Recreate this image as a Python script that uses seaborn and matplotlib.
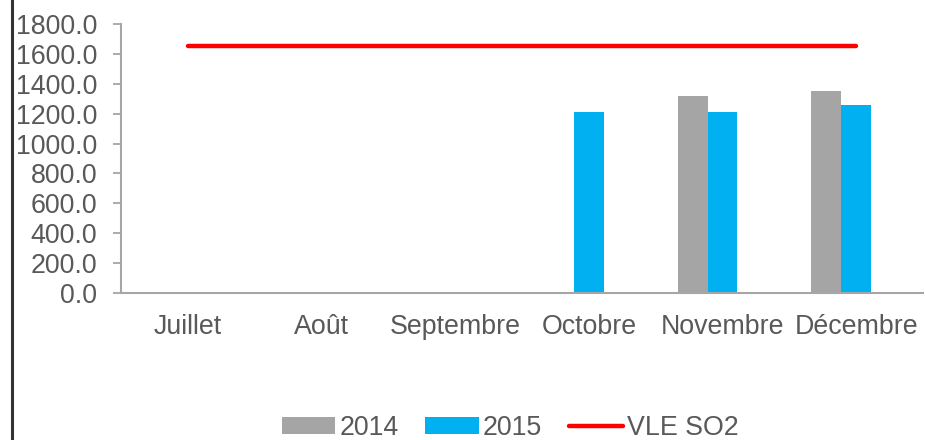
import matplotlib
matplotlib.use("Agg")
import matplotlib.pyplot as plt
import matplotlib.ticker as mticker
from matplotlib.lines import Line2D
import numpy as np
import pandas as pd
import seaborn as sns

# Data
months = ["Juillet", "Août", "Septembre", "Octobre", "Novembre", "Décembre"]
values_2014 = [0, 0, 0, 0, 1320, 1355]
values_2015 = [0, 0, 0, 1210, 1210, 1260]
values_other = [6, 0, 0, 0, 0, 0]  # faint third series, not in the legend
vle_so2 = [1650, 1650, 1650, 1650, 1650, 1650]

sns.set_style("white")
plt.rcParams["font.family"] = ["Liberation Sans", "DejaVu Sans"]
text_color = "#595959"
axis_color = "#A6A6A6"
fs = 19.3

df = pd.DataFrame({
    "Mois": months * 3,
    "Série": ["2014"] * 6 + ["2015"] * 6 + ["autre"] * 6,
    "valeur": values_2014 + values_2015 + values_other,
})

fig = plt.figure(figsize=(9.25, 4.4), dpi=100)
ax = fig.add_axes([121 / 925, 1 - 293 / 440, 802 / 925, 269 / 440])

sns.barplot(data=df, x="Mois", y="valeur", hue="Série", order=months,
            palette={"2014": "#A5A5A5", "2015": "#00B0F0", "autre": "#D5E8C4"},
            width=0.673, errorbar=None, ax=ax, saturation=1, linewidth=0)
ax.plot(np.arange(len(months)), vle_so2, color="#FF0000", lw=3.2,
        solid_capstyle="round", label="VLE SO2")

ax.set_ylim(0, 1800)
ax.set_xlim(-0.5, len(months) - 0.5)
ax.yaxis.set_major_locator(mticker.MultipleLocator(200))
ax.yaxis.set_major_formatter(mticker.FormatStrFormatter("%.1f"))
ax.set_xlabel("")
ax.set_ylabel("")

ax.set_xticks(np.arange(len(months)))
ax.set_xticklabels(months)
ax.set_xticks(np.arange(len(months) + 1) - 0.5, minor=True)
ax.tick_params(axis="x", which="major", length=0, pad=15, labelsize=fs,
               labelcolor=text_color)
ax.tick_params(axis="x", which="minor", length=6, width=1.3, color=axis_color)
ax.tick_params(axis="y", length=6, width=1.3, color=axis_color, pad=11,
               labelsize=fs, labelcolor=text_color, left=True)

for side in ["top", "right"]:
    ax.spines[side].set_visible(False)
for side in ["left", "bottom"]:
    ax.spines[side].set_color(axis_color)
    ax.spines[side].set_linewidth(1.5)

handles, labels = ax.get_legend_handles_labels()
keep = [i for i, lab in enumerate(labels) if lab != "autre"]
ax.get_legend().remove()
fig.legend([handles[i] for i in keep], [labels[i] for i in keep],
           loc="center", bbox_to_anchor=(510 / 925, 1 - 428 / 440),
           ncol=3, frameon=False, fontsize=fs, labelcolor=text_color,
           handlelength=2.0, handleheight=0.55, handletextpad=0.15,
           columnspacing=1.0, borderaxespad=0, borderpad=0)

# dark frame edge on the left of the picture
fig.add_artist(Line2D([12 / 925, 12 / 925], [0, 1], color="#333333", lw=2.2,
                      transform=fig.transFigure))

fig.savefig("out.png", dpi=100)
